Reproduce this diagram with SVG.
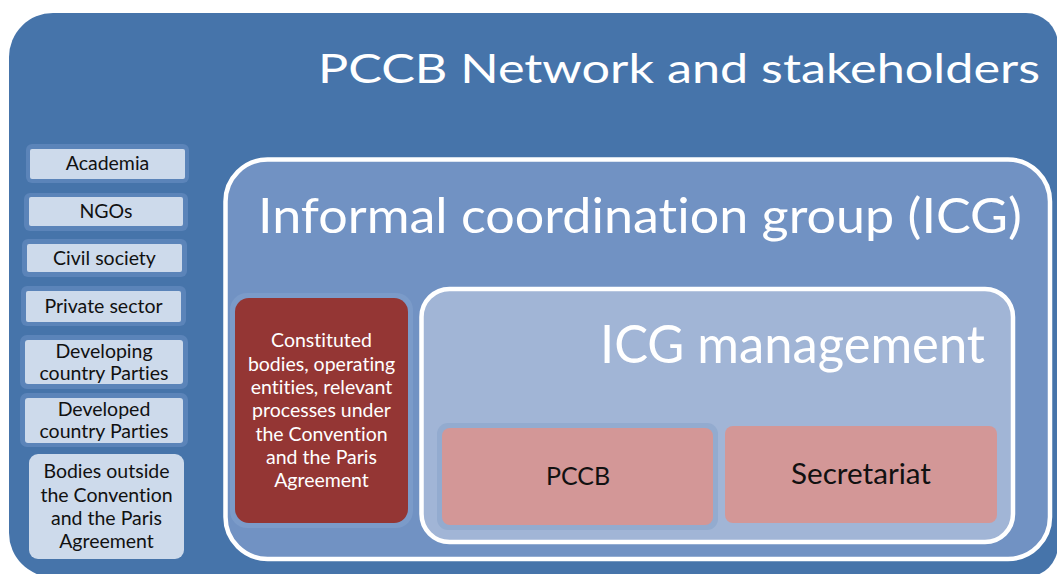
<svg xmlns="http://www.w3.org/2000/svg" width="1057" height="574" viewBox="0 0 1057 574">
<style>
text{font-family:Lato,"Open Sans","Liberation Sans",sans-serif;text-anchor:middle;font-variant-ligatures:none;font-feature-settings:"liga" 0}
.big{fill:#ffffff}
.lbl{font-size:19.5px;fill:#111111}
.wl{font-size:19.5px;fill:#ffffff}
.frame{fill:#5b84b9}
.lt{fill:#cddaeb}
.pink{fill:#d39797}
</style>
<rect width="1057" height="574" fill="#ffffff"/>
<g id="outer">
<path d="M53 13 H1026 A32 32 0 0 1 1058 45 V545 A32 32 0 0 1 1026 577 H53 A44 44 0 0 1 9 533 V57 A44 44 0 0 1 53 13 Z" fill="#4674aa"/>
<text class="big" x="679" y="83" font-size="41" textLength="722" lengthAdjust="spacingAndGlyphs">PCCB Network and stakeholders</text>
</g>
<g id="academia"><rect class="frame" x="26" y="144" width="163" height="39" rx="6"/><rect class="lt" x="30" y="149" width="155" height="30" rx="2"/><text class="lbl" x="107.5" y="170">Academia</text></g>
<g id="ngos"><rect class="frame" x="24" y="193" width="164" height="38" rx="6"/><rect class="lt" x="29" y="197" width="154" height="29" rx="2"/><text class="lbl" x="106" y="218">NGOs</text></g>
<g id="civil-society"><rect class="frame" x="22" y="239" width="165" height="38" rx="6"/><rect class="lt" x="27" y="244" width="155" height="28" rx="2"/><text class="lbl" x="104.5" y="265">Civil society</text></g>
<g id="private-sector"><rect class="frame" x="21" y="286" width="165" height="40" rx="6"/><rect class="lt" x="26" y="291" width="155" height="31" rx="2"/><text class="lbl" x="103.5" y="312.5">Private sector</text></g>
<g id="developing"><rect class="frame" x="20" y="335" width="168" height="54" rx="7"/><rect class="lt" x="25" y="340" width="158" height="44" rx="3"/><text class="lbl" x="104" y="357.5">Developing</text><text class="lbl" x="104" y="379.5">country Parties</text></g>
<g id="developed"><rect class="frame" x="20" y="393" width="168" height="54" rx="7"/><rect class="lt" x="25" y="398" width="158" height="45" rx="3"/><text class="lbl" x="104" y="416">Developed</text><text class="lbl" x="104" y="438">country Parties</text></g>
<g id="bodies-outside"><rect class="lt" x="29" y="454" width="155" height="105" rx="9"/><text class="lbl" x="106.5" y="478">Bodies outside</text><text class="lbl" x="106.5" y="501.5">the Convention</text><text class="lbl" x="106.5" y="524.5">and the Paris</text><text class="lbl" x="106.5" y="547.5">Agreement</text></g>
<g id="icg">
<rect x="225.5" y="159.5" width="824.5" height="399.5" rx="42" fill="#7192c3" stroke="#ffffff" stroke-width="4.5"/>
<text class="big" x="640" y="233" font-size="48" textLength="764" lengthAdjust="spacingAndGlyphs">Informal coordination group (ICG)</text>
</g>
<g id="constituted-bodies">
<rect x="230" y="293" width="183" height="235" rx="17" fill="#7b9bc9"/>
<rect x="235" y="298" width="173" height="225" rx="14" fill="#943634"/>
<text class="wl" x="321.5" y="347">Constituted</text>
<text class="wl" x="321.5" y="370.5">bodies, operating</text>
<text class="wl" x="321.5" y="394">entities, relevant</text>
<text class="wl" x="321.5" y="417">processes under</text>
<text class="wl" x="321.5" y="440.5">the Convention</text>
<text class="wl" x="321.5" y="464">and the Paris</text>
<text class="wl" x="321.5" y="487">Agreement</text>
</g>
<g id="icg-management">
<rect x="421.5" y="289" width="591.5" height="253" rx="28" fill="#a1b5d6" stroke="#ffffff" stroke-width="4.5"/>
<text class="big" x="792.5" y="363" font-size="52" textLength="385" lengthAdjust="spacingAndGlyphs">ICG management</text>
</g>
<g id="pccb">
<rect x="437" y="423" width="281" height="107" rx="11" fill="#93abcf"/>
<rect class="pink" x="442" y="428" width="271" height="97" rx="8"/>
<text x="578" y="485" font-size="25" fill="#111111">PCCB</text>
</g>
<g id="secretariat">
<rect class="pink" x="725" y="426" width="272" height="97" rx="8"/>
<text x="861" y="484" font-size="28" fill="#111111" textLength="140" lengthAdjust="spacingAndGlyphs">Secretariat</text>
</g>
<g id="connectors"></g>
</svg>
